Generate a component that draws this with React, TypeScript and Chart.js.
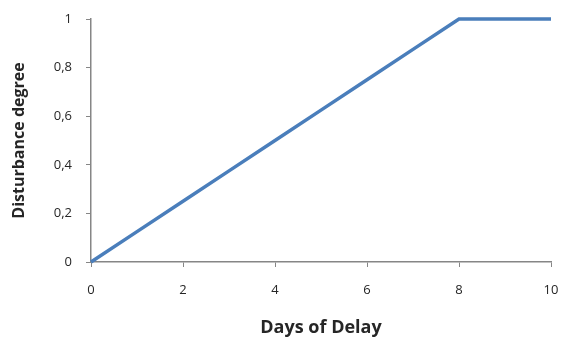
import React, { useEffect, useRef } from "react";
import { Chart, registerables } from "chart.js";

Chart.register(...registerables);

const days = [0, 1, 2, 3, 4, 5, 6, 7, 8, 9, 10];
const disturbance = [0, 0.125, 0.25, 0.375, 0.5, 0.625, 0.75, 0.875, 1, 1, 1];
const xTicks = [0, 2, 4, 6, 8, 10];
const yTicks = [0, 0.2, 0.4, 0.6, 0.8, 1];

const axisColor = "#868686";
const textColor = "#262626";
const fontFamily = "'Open Sans', 'Liberation Sans', sans-serif";

export default function App() {
  const ref = useRef<HTMLCanvasElement | null>(null);
  useEffect(() => {
    document.body.style.margin = "0";
    const ctx = ref.current!;
    const chart = new Chart(ctx, {
      type: "line",
      data: {
        datasets: [
          {
            data: days.map((d, i) => ({ x: d, y: disturbance[i] })),
            borderColor: "#4a7ebb",
            borderWidth: 3.5,
            pointRadius: 0,
            tension: 0,
            fill: false,
            clip: false as any,
          },
        ],
      },
      options: {
        responsive: false,
        animation: false,
        layout: { padding: { top: 19, right: 10, left: 0, bottom: 0 } },
        plugins: { legend: { display: false }, tooltip: { enabled: false } },
        scales: {
          x: {
            type: "linear",
            min: 0,
            max: 10,
            afterBuildTicks: (s: any) => {
              s.ticks = xTicks.map((v) => ({ value: v }));
            },
            afterFit: (s: any) => {
              s.height = 77;
              s.paddingRight = 0;
              s.paddingLeft = 0;
            },
            grid: {
              drawOnChartArea: false,
              drawTicks: true,
              tickLength: 5,
              color: axisColor,
            },
            border: { display: true, color: axisColor, width: 1.5 },
            ticks: {
              color: textColor,
              font: { family: fontFamily, size: 13 },
              padding: 15,
              maxRotation: 0,
            },
            title: {
              display: true,
              text: "Days of Delay",
              color: textColor,
              font: { family: fontFamily, size: 18, weight: "bold" },
              padding: { top: 12, bottom: 0 },
            },
          },
          y: {
            type: "linear",
            min: 0,
            max: 1,
            afterBuildTicks: (s: any) => {
              s.ticks = yTicks.map((v) => ({ value: v }));
            },
            afterFit: (s: any) => {
              s.width = 91;
              s.paddingTop = 0;
              s.paddingBottom = 0;
            },
            grid: {
              drawOnChartArea: false,
              drawTicks: true,
              tickLength: 5,
              color: axisColor,
            },
            border: { display: true, color: axisColor, width: 1.5 },
            ticks: {
              color: textColor,
              font: { family: fontFamily, size: 13 },
              padding: 14,
              callback: (v: any) => String(Math.round(Number(v) * 10) / 10).replace(".", ","),
            },
            title: {
              display: true,
              text: "Disturbance degree",
              color: textColor,
              font: { family: fontFamily, size: 16, weight: "bold" },
              padding: { top: 10, bottom: 8 },
            },
          },
        },
      },
    });
    return () => chart.destroy();
  }, []);
  return (
    <div style={{ width: 561, height: 339 }}>
      <canvas ref={ref} width={561} height={339} />
    </div>
  );
}
